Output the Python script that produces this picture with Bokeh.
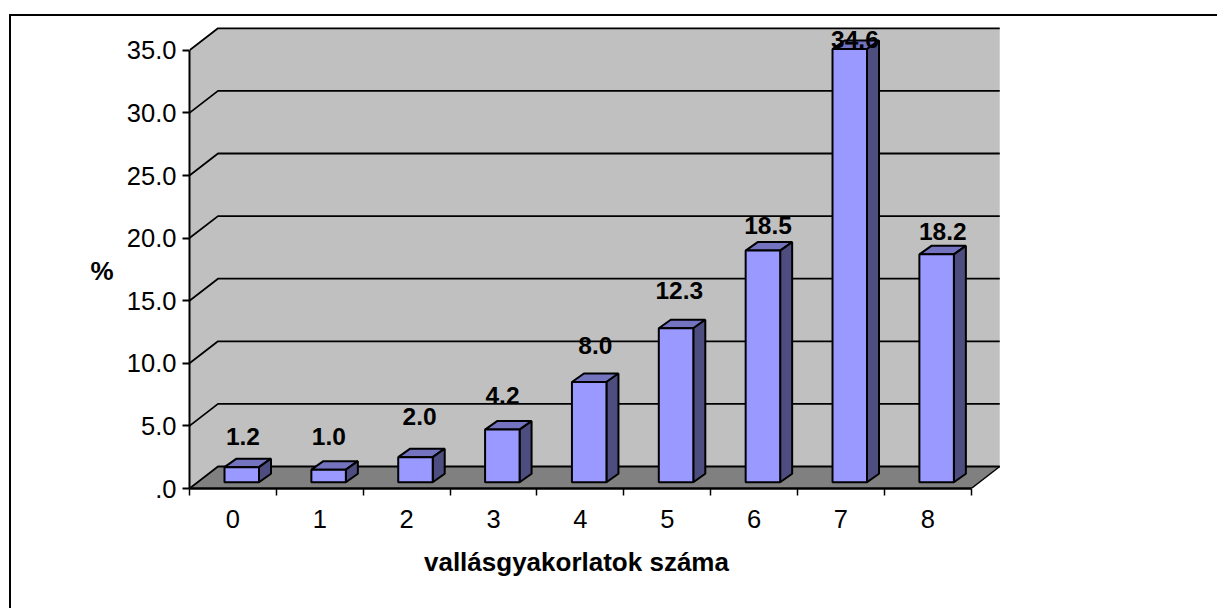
from bokeh.plotting import figure
from bokeh.models import Range1d, FixedTicker, LinearAxis
from bokeh.core.properties import value
from bokeh.embed import file_html
from bokeh.resources import INLINE

categories = ["0", "1", "2", "3", "4", "5", "6", "7", "8"]
percent = [1.2, 1.0, 2.0, 4.2, 8.0, 12.3, 18.5, 34.6, 18.2]
value_labels = ["1.2", "1.0", "2.0", "4.2", "8.0", "12.3", "18.5", "34.6", "18.2"]
y_ticks = [0, 5, 10, 15, 20, 25, 30, 35]
y_tick_labels = [".0", "5.0", "10.0", "15.0", "20.0", "25.0", "30.0", "35.0"]
x_title = "vallásgyakorlatok száma"
y_title = "%"

# layout (pixels)
W, H = 1217, 608
LEFT, BOTTOM = 189, 120
PX_X, PX_Y = 86.86, 12.52
FONT = "Liberation Sans"
LABEL_SIZE = "25.5px"
VALUE_SIZE = "24.5px"
label_dx = [10, 9, 13, 9, 15, 12, 14, 14, 15]
label_dy = [31, 33, 41, 34, 37, 38, 25, 10, 23]

n = len(categories)
xmax = (W - LEFT) / PX_X
ymax = (H - BOTTOM) / PX_Y
DX, DY = 28.5 / PX_X, 22 / PX_Y          # wall depth
top = y_ticks[-1]

p = figure(width=W, height=H, output_backend="svg", toolbar_location=None,
           x_range=Range1d(0, xmax), y_range=Range1d(0, ymax),
           x_axis_location=None, y_axis_location=None,
           min_border_left=LEFT, min_border_bottom=BOTTOM,
           min_border_top=0, min_border_right=0,
           outline_line_color=None, background_fill_color=None,
           border_fill_color=None)
p.grid.visible = False
# chart-area border: runs off the page on the right and at the bottom
p.styles = {"background":
            "linear-gradient(#000,#000) 9px 14px/2px 100% no-repeat,"
            "linear-gradient(#000,#000) 9px 14px/100% 2px no-repeat,#fff"}

# walls and floor
p.patch([0, DX, DX, 0], [0, DY, top + DY, top], fill_color="#C0C0C0", line_color=None)
p.patch([DX, n + DX, n + DX, DX], [DY, DY, top + DY, top + DY], fill_color="#C0C0C0", line_color=None)
p.patch([0, DX, n + DX, n], [0, DY, DY, 0], fill_color="#808080", line_color=None)
p.multi_line([[0, DX, n + DX] for _ in y_ticks], [[v, v + DY, v + DY] for v in y_ticks],
             line_color="black", line_width=1.8)
p.line([n, n + DX], [0, DY], line_color="black", line_width=1.5)

# 3D bars
BL, BW = 35 / PX_X, 34.5 / PX_X
BASE = 6.3 / PX_Y
BDX, BDY = 12 / PX_X, 8.5 / PX_Y
xl = [i + BL for i in range(n)]
xr = [x + BW for x in xl]
yt = [BASE + v for v in percent]
p.patches([[a, b, b + BDX, a + BDX] for a, b in zip(xl, xr)],
          [[t, t, t + BDY, t + BDY] for t in yt],
          fill_color="#7373C0", line_color="black", line_width=2)
p.patches([[b, b + BDX, b + BDX, b] for b in xr],
          [[BASE, BASE + BDY, t + BDY, t] for t in yt],
          fill_color="#4D4D80", line_color="black", line_width=2)
p.quad(left=xl, right=xr, bottom=BASE, top=yt,
       fill_color="#9999FF", line_color="black", line_width=2)

# value labels
p.text([i + 0.5 for i in range(n)], yt, text=value_labels,
       x_offset=label_dx, y_offset=[-d for d in label_dy],
       text_font=value(FONT), text_font_style="bold", text_font_size=VALUE_SIZE,
       text_color="black", text_align="center", text_baseline="middle")

# axes
yax = LinearAxis(bounds=(0, top), ticker=FixedTicker(ticks=y_ticks),
                 major_label_overrides=dict(zip(y_ticks, y_tick_labels)),
                 major_tick_in=0, major_tick_out=7, minor_tick_out=0, minor_tick_in=0,
                 axis_line_color="black", axis_line_width=2,
                 major_tick_line_color="black", major_tick_line_width=2,
                 major_label_standoff=6,
                 major_label_text_font=FONT, major_label_text_font_size=LABEL_SIZE,
                 major_label_text_color="black")
p.add_layout(yax, "left")

edges = list(range(n + 1))
xtick = LinearAxis(bounds=(0, n), ticker=FixedTicker(ticks=edges),
                   major_label_overrides={e: "" for e in edges},
                   major_tick_in=0, major_tick_out=7, minor_tick_out=0, minor_tick_in=0,
                   axis_line_color="black", axis_line_width=2.5,
                   major_tick_line_color="black", major_tick_line_width=1.5,
                   major_label_text_font_size="1px", major_label_standoff=0)
p.add_layout(xtick, "below")

centers = [i + 0.5 for i in range(n)]
xlab = LinearAxis(bounds=(0, n), ticker=FixedTicker(ticks=centers),
                  major_label_overrides=dict(zip(centers, categories)),
                  major_tick_in=0, major_tick_out=0, minor_tick_out=0, minor_tick_in=0,
                  axis_line_color=None, major_tick_line_color=None,
                  major_label_standoff=14,
                  major_label_text_font=FONT, major_label_text_font_size=LABEL_SIZE,
                  major_label_text_color="black")
p.add_layout(xlab, "below")


def title_axis(pos, text, standoff):
    """Axis whose single tick label carries the title, off the axis centre."""
    return LinearAxis(ticker=FixedTicker(ticks=[pos]),
                      major_label_overrides={pos: text},
                      major_tick_in=0, major_tick_out=0, minor_tick_out=0, minor_tick_in=0,
                      axis_line_color=None, major_tick_line_color=None,
                      major_label_standoff=standoff,
                      major_label_text_font=FONT, major_label_text_font_style="bold",
                      major_label_text_font_size="26px", major_label_text_color="black")


p.add_layout(title_axis(4.455, x_title, 16), "below")
p.add_layout(title_axis(17.4, y_title, 10), "left")

open("out.html", "w").write(file_html(p, INLINE))
